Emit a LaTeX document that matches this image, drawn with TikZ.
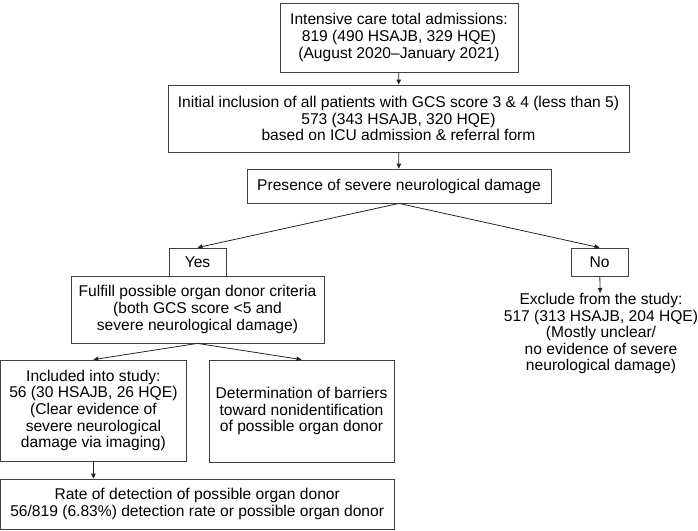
\documentclass[tikz,border=0pt]{standalone}
\usepackage{fontspec}
\setmainfont{Liberation Sans}
\usetikzlibrary{arrows.meta, positioning}

\begin{document}
\begin{tikzpicture}[x=1pt, y=-1pt,
    box/.style={draw=black!75, line width=0.8pt, align=center, inner sep=0pt,
      font=\fontsize{15.6}{16.6}\selectfont},
    plain/.style={align=center, inner sep=0pt, font=\fontsize{15.6}{16.6}\selectfont},
    arr/.style={-{Triangle[length=5pt, width=4.5pt]}, line width=0.8pt, black!85}]
  \useasboundingbox (0,0) rectangle (698,530);

  % top part
  \node[box, minimum width=238pt, minimum height=69pt] (admit) at (399,37.5)
    {Intensive care total admissions:\\819 (490 HSAJB, 329 HQE)\\(August 2020--January 2021)};
  \node[box, minimum width=461pt, minimum height=67pt] (incl) at (398.5,118.5)
    {Initial inclusion of all patients with GCS score 3 \& 4 (less than 5)\\573 (343 HSAJB, 320 HQE)\\based on ICU admission \& referral form};
  \node[box, minimum width=304pt, minimum height=34pt] (presence) at (399,186)
    {Presence of severe neurological damage};

  % yes / no branches
  \node[box, minimum width=57pt, minimum height=28pt] (yes) at (197.5,262) {Yes};
  \node[box, minimum width=57pt, minimum height=28pt] (no) at (599.5,262) {No};
  \node[box, minimum width=253pt, minimum height=67pt] (criteria) at (197.5,309.5)
    {Fulfill possible organ donor criteria\\(both GCS score <5 and\\severe neurological damage)};
  \node[plain, anchor=north] (exclude) at (601,293)
    {Exclude from the study:\\517 (313 HSAJB, 204 HQE)\\(Mostly unclear/\\no evidence of severe\\neurological damage)};

  % bottom part
  \node[box, minimum width=186pt, minimum height=101pt] (included) at (93.4,410.5)
    {Included into study:\\56 (30 HSAJB, 26 HQE)\\(Clear evidence of\\severe neurological\\damage via imaging)};
  \node[box, minimum width=185pt, minimum height=102pt] (barriers) at (301.5,411)
    {Determination of barriers\\toward nonidentification\\of possible organ donor};
  \node[box, minimum width=393.6pt, minimum height=50pt] (rate) at (197.2,504)
    {Rate of detection of possible organ donor\\56/819 (6.83\%) detection rate or possible organ donor};

  \draw[arr] (admit) -- (incl);
  \draw[arr] (incl) -- (presence);
  \draw[arr] (presence.south) -- (yes.north);
  \draw[arr] (presence.south) -- (no.north);
  \draw[arr] (no) -- (exclude);
  \draw[arr] (criteria.south) -- (included.north);
  \draw[arr] (criteria.south) -- (barriers.north);
  \draw[arr] (included) -- (included.south |- rate.north);
\end{tikzpicture}
\end{document}
